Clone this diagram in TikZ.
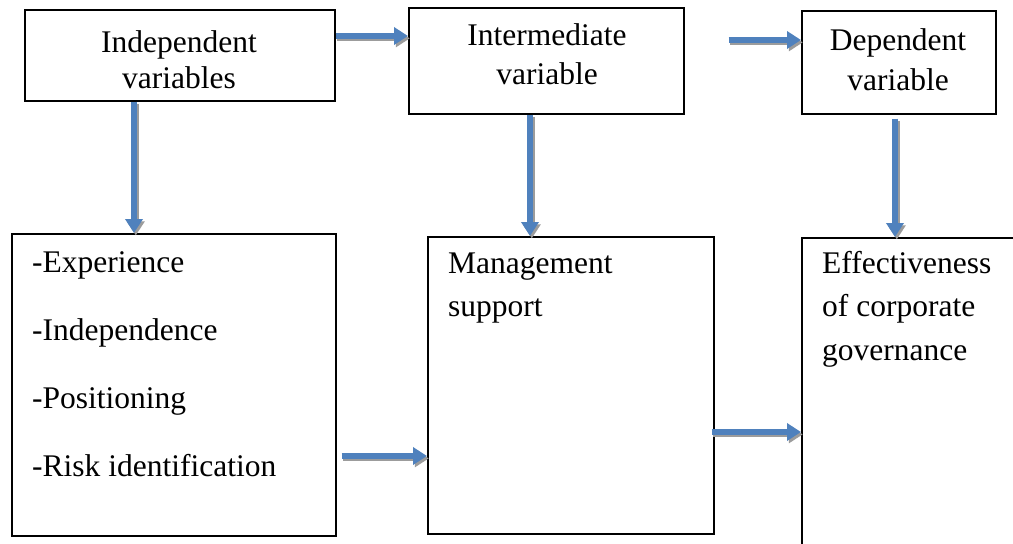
\documentclass[tikz,border=0pt]{standalone}
\usepackage{fontspec}
\setmainfont{Liberation Serif}
\usetikzlibrary{arrows.meta}
\definecolor{arrowblue}{HTML}{4F81BD}
\definecolor{shadowgray}{HTML}{9C9C9C}
\tikzset{
  box/.style={draw=black, line width=1.6pt, rectangle, inner sep=0pt, anchor=north west, fill=white},
  txt/.style={inner sep=0pt, anchor=base, font=\fontsize{31.5}{36}\selectfont},
  ltxt/.style={inner sep=0pt, anchor=base west, font=\fontsize{31.5}{36}\selectfont},
  arr/.style={draw=arrowblue, line width=5.5pt, -{Triangle[length=14pt,width=17pt]}},
  shad/.style={draw=shadowgray, line width=5.5pt, -{Triangle[length=14pt,width=17pt]}, transform canvas={shift={(1.8pt,-2.4pt)}}}
}
\begin{document}
\begin{tikzpicture}[x=1pt,y=-1pt]
\useasboundingbox (0,0) rectangle (1013,544);
\clip (0,0) rectangle (1013,544);
\fill[white] (0,0) rectangle (1013,544);
% boxes
\node[box, minimum width=310pt, minimum height=91pt] (A) at (24,9) {};
\node[box, minimum width=275pt, minimum height=106pt] (B) at (408,7) {};
\node[box, minimum width=194pt, minimum height=103pt] (C) at (801,10) {};
\node[box, minimum width=324pt, minimum height=302pt] (D) at (11,233) {};
\node[box, minimum width=286pt, minimum height=297pt] (E) at (427,236) {};
\node[box, minimum width=240pt, minimum height=330pt] (F) at (801,237) {};
% texts
\node[txt] (a1) at (179,52) {Independent};
\node[txt] (a2) at (179,88) {variables};
\node[txt] (b1) at (547,45) {Intermediate};
\node[txt] (b2) at (547,84) {variable};
\node[txt] (c1) at (898,50) {Dependent};
\node[txt] (c2) at (898,90) {variable};
\node[ltxt] (d1) at (32,272) {-Experience};
\node[ltxt] (d2) at (32,340) {-Independence};
\node[ltxt] (d3) at (32,408) {-Positioning};
\node[ltxt] (d4) at (32,476) {-Risk identification};
\node[ltxt] (e1) at (448,273) {Management};
\node[ltxt] (e2) at (448,316.5) {support};
\node[ltxt] (f1) at (822,273) {Effectiveness};
\node[ltxt] (f2) at (822,316.5) {of corporate};
\node[ltxt] (f3) at (822,360) {governance};
% coordinates for arrow starts
\coordinate (bc0) at ([xshift=44pt]B.east |- 0,40);
\coordinate (de0) at ([xshift=5pt]D.east |- 0,456);
\coordinate (ef0) at ([xshift=-3pt]E.east |- 0,432);
\coordinate (cf0) at ([yshift=-4pt]C.south -| 895,0);
% shadows
\draw[shad] (A.east |- 0,36) -- (B.west |- 0,36);
\draw[shad] (bc0) -- (C.west |- 0,40);
\draw[shad] (A.south -| 134,0) -- (D.north -| 134,0);
\draw[shad] (B.south -| 530,0) -- (E.north -| 530,0);
\draw[shad] (cf0) -- (F.north -| 895,0);
\draw[shad] (de0) -- (E.west |- 0,456);
\draw[shad] (ef0) -- (F.west |- 0,432);
% arrows
\draw[arr] (A.east |- 0,36) -- (B.west |- 0,36);
\draw[arr] (bc0) -- (C.west |- 0,40);
\draw[arr] (A.south -| 134,0) -- (D.north -| 134,0);
\draw[arr] (B.south -| 530,0) -- (E.north -| 530,0);
\draw[arr] (cf0) -- (F.north -| 895,0);
\draw[arr] (de0) -- (E.west |- 0,456);
\draw[arr] (ef0) -- (F.west |- 0,432);
\end{tikzpicture}
\end{document}
